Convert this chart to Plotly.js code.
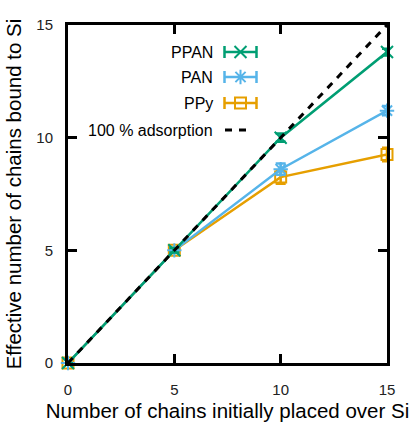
<!DOCTYPE html>
<html><head><meta charset="utf-8">
<script src="https://cdn.plot.ly/plotly-3.0.1.min.js"></script>
<style>html,body{margin:0;padding:0;background:#fff}#c{width:416px;height:422px}</style>
</head><body><div id="c"></div>
<script>
const xPlaced = [0, 5, 10, 15];
const ppan = [0, 5.0, 10.0, 13.8];
const ppanErr = [0, 0.1, 0.18, 0.15];
const pan = [0, 5.0, 8.6, 11.2];
const panErr = [0, 0.1, 0.25, 0.2];
const ppy = [0, 5.0, 8.25, 9.25];
const ppyErr = [0, 0.12, 0.3, 0.3];
const ideal = [0, 15];
const names = ['PPAN', 'PAN', 'PPy', '100 % adsorption'];
const colors = ['#009e73', '#56b4e9', '#e69f00', '#000000'];
const symbols = ['x-thin-open', 'asterisk-open', 'square-open'];

const font = 'Liberation Sans, Arial, sans-serif';
function series(y, e, i, msize) {
  return {x: xPlaced, y: y, mode: 'lines+markers', type: 'scatter', name: names[i],
    line: {color: colors[i], width: 2.5},
    marker: {symbol: symbols[i], size: msize, color: colors[i], line: {color: colors[i], width: 2}},
    error_y: {type: 'data', array: e, visible: true, color: colors[i], thickness: 2.5, width: 5},
    cliponaxis: false, showlegend: false};
}
const traces = [
  series(ppy, ppyErr, 2, 11),
  series(pan, panErr, 1, 12),
  series(ppan, ppanErr, 0, 12),
  {x: ideal, y: ideal, mode: 'lines', type: 'scatter', line: {color: '#000', width: 3, dash: '7px,7px'}, showlegend: false}
];
// legend samples on pixel-space overlay axes
const legY = [52, 77, 103];
for (let i = 0; i < 3; i++) {
  traces.push({x: [240.5], y: [legY[i]], xaxis: 'x2', yaxis: 'y2', mode: 'markers', type: 'scatter',
    marker: {symbol: symbols[i], size: i === 2 ? 11 : 12, color: colors[i], line: {color: colors[i], width: 2}},
    error_x: {type: 'constant', value: 16, color: colors[i], thickness: 2.5, width: 6},
    showlegend: false, cliponaxis: false});
}
traces.push({x: [225, 250], y: [130, 130], xaxis: 'x2', yaxis: 'y2', mode: 'lines', type: 'scatter',
  line: {color: '#000', width: 3, dash: '7px,7px'}, showlegend: false, cliponaxis: false});

const annotations = [0, 1, 2, 3].map(i => ({
  xref: 'x2', yref: 'y2', x: 215, y: [52, 77, 103, 130][i], text: names[i], showarrow: false,
  xanchor: 'right', yanchor: 'middle', font: {family: font, size: 16, color: '#000'}
}));

const axisCommon = {showgrid: false, zeroline: false, showline: true, linecolor: '#000', linewidth: 3,
  mirror: 'all', ticks: 'inside', ticklen: 9, tickwidth: 3, tickcolor: '#000',
  tickfont: {family: font, size: 15, color: '#222'}};

const layout = {
  width: 416, height: 422, margin: {l: 68, r: 29, t: 25, b: 59},
  paper_bgcolor: '#fff', plot_bgcolor: '#fff',
  xaxis: Object.assign({}, axisCommon, {range: [0, 15], tickvals: [0, 5, 10, 15], ticklabelstandoff: 11,
    title: {text: 'Number of chains initially placed over Si', font: {family: font, size: 20.5, color: '#000'}, standoff: 8}}),
  yaxis: Object.assign({}, axisCommon, {range: [0, 15], tickvals: [0, 5, 10, 15], ticklabelstandoff: 9,
    title: {text: 'Effective number of chains bound to Si', font: {family: font, size: 20.5, color: '#000'}, standoff: 10}}),
  xaxis2: {overlaying: 'x', range: [68, 387], visible: false, fixedrange: true},
  yaxis2: {overlaying: 'y', range: [363, 25], visible: false, fixedrange: true},
  annotations: annotations
};
Plotly.newPlot('c', traces, layout, {displayModeBar: false, staticPlot: true});
</script></body></html>
